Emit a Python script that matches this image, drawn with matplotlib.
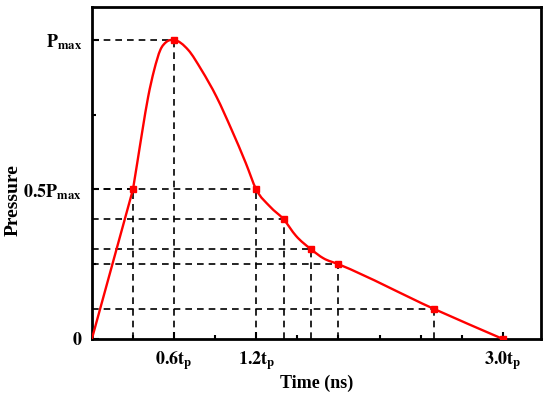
import numpy as np
import matplotlib
matplotlib.use("Agg")
import matplotlib.pyplot as plt
from matplotlib.path import Path
from matplotlib.patches import PathPatch

plt.rcParams["font.family"] = ["Liberation Serif", "DejaVu Serif"]
plt.rcParams["font.weight"] = "bold"
plt.rcParams["mathtext.fontset"] = "stix"

# key points (time in t_p, pressure in P_max)
mark_t = [0.3, 0.6, 1.2, 1.4, 1.6, 1.8, 2.5, 3.0]
mark_p = [0.5, 1.0, 0.5, 0.4, 0.3, 0.25, 0.1, 0.0]

# points
curve_t = [0.0, 0.3, 0.331, 0.37, 0.411, 0.455, 0.50, 0.545, 0.6, 0.703,
           0.80, 0.91, 1.02, 1.124, 1.2, 1.3, 1.4, 1.49, 1.6, 1.69, 1.8,
           2.5, 3.0]
curve_p = [0.0, 0.5, 0.588, 0.70, 0.81, 0.90, 0.967, 0.994, 1.0, 0.967,
           0.90, 0.81, 0.70, 0.588, 0.5, 0.443, 0.4, 0.345, 0.3, 0.27, 0.25,
           0.1, 0.0]

xtick_pos = [0.6, 1.2, 3.0]
xtick_lab = [r"$\mathbf{0.6t_p}$", r"$\mathbf{1.2t_p}$", r"$\mathbf{3.0t_p}$"]
ytick_pos = [0.0, 0.5, 1.0]
ytick_lab = [r"$\mathbf{0}$", r"$\mathbf{0.5P_{max}}$", r"$\mathbf{P_{max}}$"]


def smooth_path(xs, ys):
    # straight first rise, then hermite segments drawn as cubic beziers
    x = np.asarray(xs, float)
    y = np.asarray(ys, float)
    h = np.diff(x)
    d = np.diff(y) / h
    m = np.empty_like(x)
    m[0], m[-1] = d[0], d[-1]
    m[1:-1] = (d[:-1] * h[1:] + d[1:] * h[:-1]) / (h[:-1] + h[1:])
    m[1] = d[1]
    verts = [(x[0], y[0]), (x[1], y[1])]
    codes = [Path.MOVETO, Path.LINETO]
    for i in range(1, len(x) - 1):
        verts += [(x[i] + h[i] / 3, y[i] + m[i] * h[i] / 3),
                  (x[i + 1] - h[i] / 3, y[i + 1] - m[i + 1] * h[i] / 3),
                  (x[i + 1], y[i + 1])]
        codes += [Path.CURVE4] * 3
    return Path(verts, codes)


fig = plt.figure(figsize=(5.5, 3.96), dpi=100)
ax = fig.add_axes([0.167, 0.144, 0.817, 0.838])

# dashed guide lines
dash = dict(color="black", lw=1.2, ls=(0, (4, 3)), zorder=1)
for t, p in zip(mark_t, mark_p):
    if p > 0:
        ax.plot([0, t], [p, p], **dash)
        ax.plot([t, t], [0, p], **dash)

ax.add_patch(PathPatch(smooth_path(curve_t, curve_p), fill=False,
                       edgecolor="red", lw=1.7, zorder=3))
ax.plot(mark_t, mark_p, ls="none", marker="s", ms=5, color="red", zorder=4)

ax.set_xlim(0, 3.28)
ax.set_ylim(0, 1.11)
ax.set_xticks(xtick_pos)
ax.set_xticklabels(xtick_lab, fontsize=13)
ax.set_xticks([0.3, 0.9, 1.5, 1.8, 2.1, 2.4, 2.7], minor=True)
ax.set_yticks(ytick_pos)
ax.set_yticklabels(ytick_lab, fontsize=13)
ax.set_yticks([0.25, 0.75], minor=True)
ax.tick_params(which="both", direction="in", width=1.5)
ax.tick_params(which="major", length=5, pad=7)
ax.tick_params(which="minor", length=3)
for s in ax.spines.values():
    s.set_linewidth(2.0)

ax.set_xlabel("Time (ns)", fontsize=13, fontweight="bold", labelpad=2)
ax.set_ylabel("Pressure", fontsize=14, fontweight="bold")
ax.yaxis.set_label_coords(-0.156, 0.42)

fig.savefig("out.png", dpi=100)
